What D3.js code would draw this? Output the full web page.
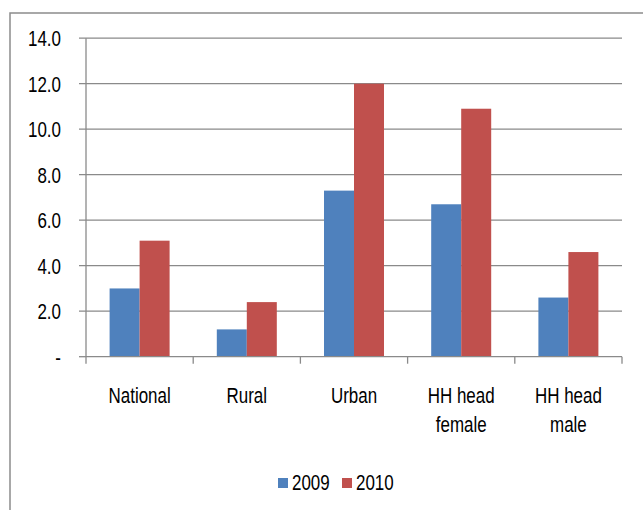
<!DOCTYPE html>
<html>
<head>
<meta charset="utf-8">
<script src="https://cdn.jsdelivr.net/npm/d3@7"></script>
<style>
  html, body { margin: 0; padding: 0; background: #fff; }
  svg { display: block; }
  text { font-family: "Liberation Sans", Arial, sans-serif; fill: #000; font-size: 22px; }
</style>
</head>
<body>
<svg id="chart" width="643" height="510"></svg>
<script>
// Share of households by group, two survey years
const categories = [["National"], ["Rural"], ["Urban"], ["HH head", "female"], ["HH head", "male"]];
const series = ["2009", "2010"];
const values2009 = [3.0, 1.2, 7.3, 6.7, 2.6];
const values2010 = [5.1, 2.4, 12.0, 10.9, 4.6];
const yTicks = [0, 2, 4, 6, 8, 10, 12, 14];
const colors = ["#4F81BD", "#C0504D"];

const svg = d3.select("#chart");
const W = 643, H = 510;
const plot = { left: 86, right: 622, top: 38.2, bottom: 356.7 };
const narrow = 0.77; // condensed lettering

// place a horizontally condensed label at (x, y)
function label(parent, x, y, anchor) {
  return parent.append("g")
    .attr("transform", `translate(${x},${y}) scale(${narrow},1)`)
    .append("text")
    .attr("text-anchor", anchor || "start");
}

// outer chart frame (runs off the right and bottom edges)
svg.append("rect")
  .attr("x", 10).attr("y", 13)
  .attr("width", W + 20).attr("height", H + 20)
  .attr("fill", "#fff").attr("stroke", "#8c8c8c").attr("stroke-width", 1.5);

const x0 = d3.scaleBand().domain(d3.range(categories.length))
  .range([plot.left, plot.right]).paddingInner(0).paddingOuter(0);
const y = d3.scaleLinear().domain([0, 14]).range([plot.bottom, plot.top]);

// horizontal gridlines (start left of the axis to form tick marks)
svg.append("g").selectAll("line").data(yTicks.filter(d => d > 0)).join("line")
  .attr("x1", plot.left - 7).attr("x2", plot.right)
  .attr("y1", d => y(d)).attr("y2", d => y(d))
  .attr("stroke", "#8a8a8a").attr("stroke-width", 1.3);

// y tick labels
const yLab = svg.append("g");
yTicks.forEach(t => {
  label(yLab, 61, y(t), "end")
    .attr("dy", "0.36em")
    .text(t === 0 ? "-" : d3.format(".1f")(t));
});

// bars
const pairWidth = 60;
const x1 = d3.scaleBand().domain(series).range([0, pairWidth]);
const rows = categories.map((c, i) => ({ i, vals: [values2009[i], values2010[i]] }));
const groups = svg.append("g").selectAll("g").data(rows).join("g")
  .attr("transform", d => `translate(${x0(d.i) + (x0.bandwidth() - pairWidth) / 2},0)`);
groups.selectAll("rect").data(d => d.vals.map((v, k) => ({ v, k }))).join("rect")
  .attr("x", d => x1(series[d.k]))
  .attr("width", x1.bandwidth())
  .attr("y", d => y(d.v))
  .attr("height", d => y(0) - y(d.v))
  .attr("fill", d => colors[d.k]);

// y axis line with tick at zero
svg.append("line")
  .attr("x1", plot.left).attr("x2", plot.left)
  .attr("y1", plot.top).attr("y2", plot.bottom)
  .attr("stroke", "#8a8a8a").attr("stroke-width", 1.3);
svg.append("line")
  .attr("x1", plot.left - 7).attr("x2", plot.left)
  .attr("y1", plot.bottom).attr("y2", plot.bottom)
  .attr("stroke", "#8a8a8a").attr("stroke-width", 1.3);

// x axis line and category boundary ticks
svg.append("line")
  .attr("x1", plot.left).attr("x2", plot.right)
  .attr("y1", plot.bottom).attr("y2", plot.bottom)
  .attr("stroke", "#8a8a8a").attr("stroke-width", 1.3);
const bounds = d3.range(categories.length + 1).map(i => i < categories.length ? x0(i) : x0(i - 1) + x0.bandwidth());
svg.append("g").selectAll("line").data(bounds).join("line")
  .attr("x1", d => d).attr("x2", d => d)
  .attr("y1", plot.bottom).attr("y2", plot.bottom + 7)
  .attr("stroke", "#8a8a8a").attr("stroke-width", 1.3);

// category labels
const xLab = svg.append("g");
rows.forEach(d => {
  const t = label(xLab, x0(d.i) + x0.bandwidth() / 2, 403, "middle");
  t.selectAll("tspan").data(categories[d.i]).join("tspan")
    .attr("x", 0)
    .attr("dy", (s, j) => j === 0 ? 0 : 29)
    .text(s => s);
});

// legend
const legend = svg.append("g");
const legendX = [278, 342];
series.forEach((s, k) => {
  legend.append("rect")
    .attr("x", legendX[k]).attr("y", 478)
    .attr("width", 10).attr("height", 10)
    .attr("fill", colors[k]);
  label(legend, legendX[k] + 14, 490).text(s);
});
</script>
</body>
</html>
